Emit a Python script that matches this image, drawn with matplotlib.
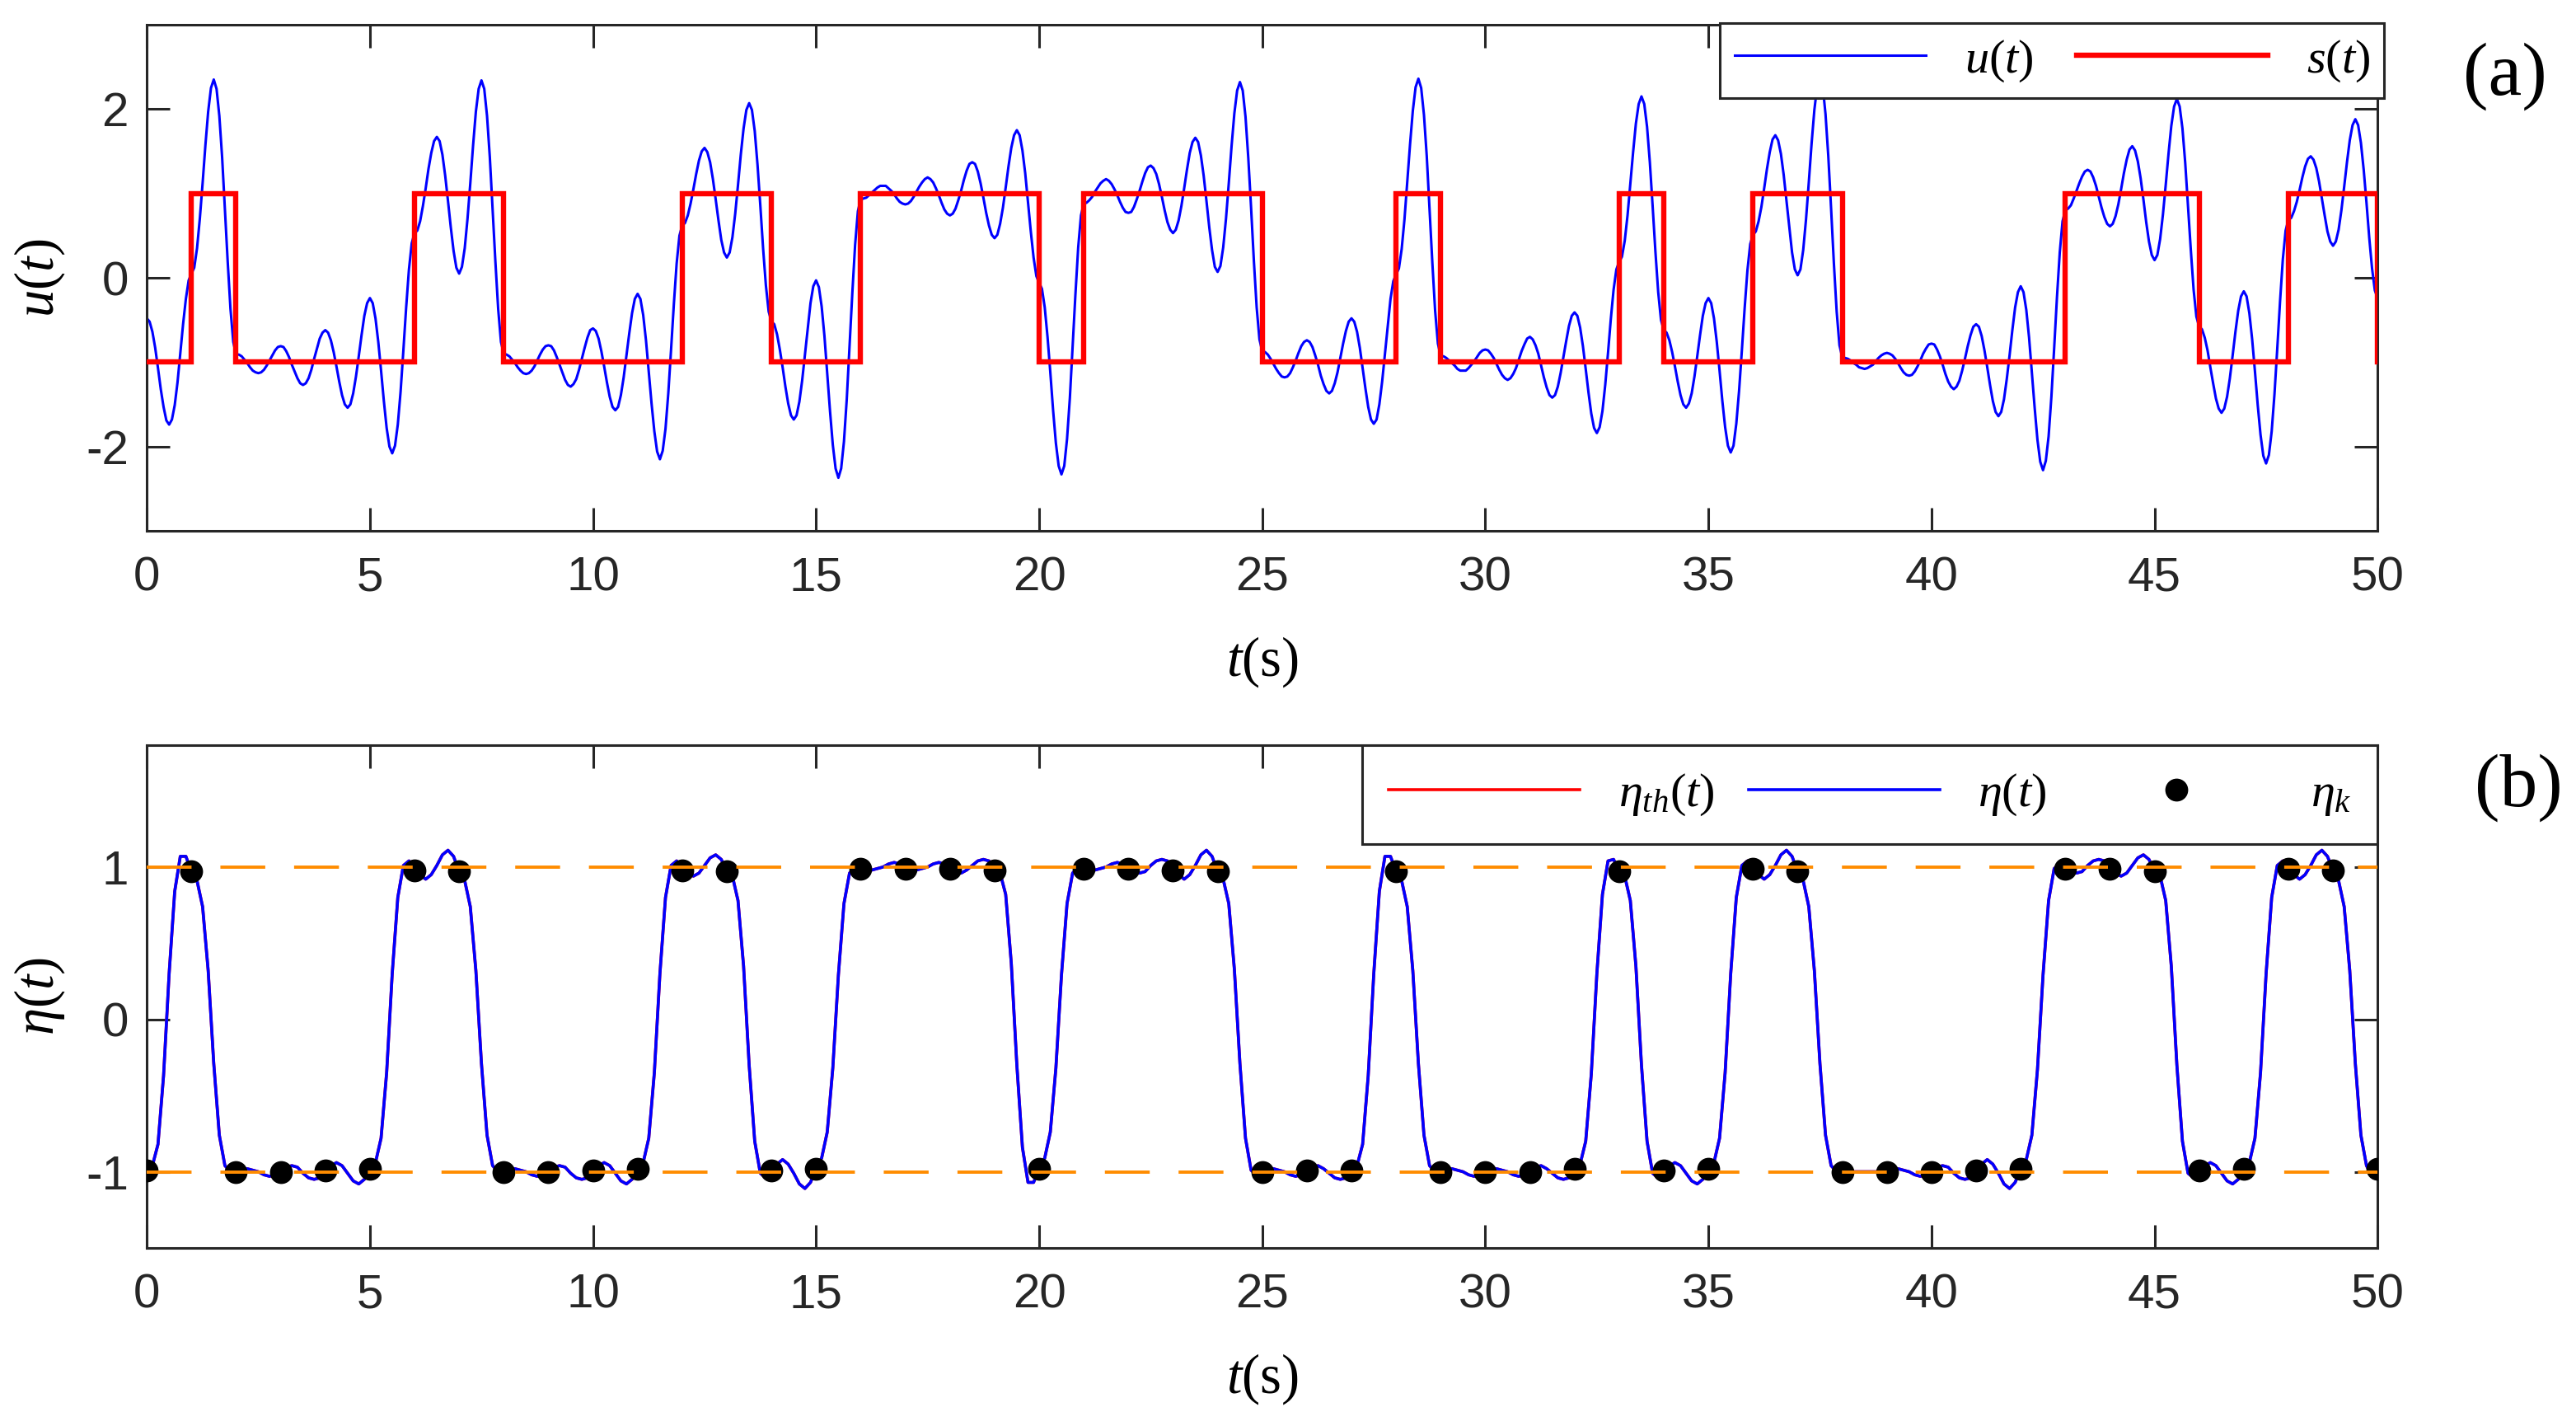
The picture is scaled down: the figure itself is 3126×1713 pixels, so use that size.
import numpy as np
import matplotlib
matplotlib.use("Agg")
import matplotlib.pyplot as plt
from matplotlib.lines import Line2D

# ---------------- data ----------------
# symbol levels s(t) on [k, k+1), k = 0..49, and the level reached at t = 50
s_times = list(range(51))
s_levels = [-1, 1, -1, -1, -1, -1, 1, 1, -1, -1,
            -1, -1, 1, 1, -1, -1, 1, 1, 1, 1,
            -1, 1, 1, 1, 1, -1, -1, -1, 1, -1,
            -1, -1, -1, 1, -1, -1, 1, 1, -1, -1,
            -1, -1, -1, 1, 1, 1, -1, -1, 1, 1,
            -1]

# u(t) read every 1/16 s (one row per second), last value at t = 50
u_samples_per_second = 16
u_values = [
    -0.48, -0.52, -0.64, -0.83, -1.07, -1.32, -1.53, -1.69, -1.74, -1.68, -1.51, -1.24, -0.90, -0.55, -0.25, -0.03,
    0.05, 0.12, 0.35, 0.70, 1.12, 1.57, 1.97, 2.25, 2.35, 2.24, 1.92, 1.43, 0.82, 0.19, -0.37, -0.76,
    -0.91, -0.91, -0.93, -0.97, -1.01, -1.06, -1.10, -1.12, -1.13, -1.12, -1.09, -1.04, -0.98, -0.92, -0.86, -0.82,
    -0.81, -0.82, -0.87, -0.94, -1.03, -1.11, -1.19, -1.25, -1.27, -1.25, -1.19, -1.09, -0.96, -0.84, -0.72, -0.65,
    -0.62, -0.65, -0.74, -0.88, -1.05, -1.23, -1.39, -1.50, -1.54, -1.50, -1.37, -1.17, -0.93, -0.68, -0.45, -0.30,
    -0.24, -0.30, -0.48, -0.76, -1.10, -1.46, -1.78, -2.00, -2.08, -1.99, -1.74, -1.35, -0.86, -0.35, 0.10, 0.41,
    0.53, 0.56, 0.67, 0.85, 1.06, 1.29, 1.48, 1.62, 1.67, 1.62, 1.46, 1.21, 0.91, 0.60, 0.32, 0.12,
    0.05, 0.13, 0.35, 0.70, 1.12, 1.57, 1.97, 2.24, 2.34, 2.24, 1.92, 1.43, 0.82, 0.19, -0.37, -0.76,
    -0.90, -0.91, -0.93, -0.97, -1.01, -1.06, -1.10, -1.13, -1.14, -1.13, -1.10, -1.05, -0.98, -0.91, -0.85, -0.81,
    -0.80, -0.81, -0.86, -0.94, -1.03, -1.12, -1.21, -1.27, -1.29, -1.26, -1.20, -1.09, -0.96, -0.83, -0.71, -0.62,
    -0.60, -0.63, -0.72, -0.87, -1.05, -1.24, -1.41, -1.53, -1.57, -1.53, -1.39, -1.18, -0.92, -0.66, -0.42, -0.25,
    -0.19, -0.25, -0.44, -0.74, -1.11, -1.49, -1.82, -2.06, -2.15, -2.05, -1.79, -1.37, -0.85, -0.31, 0.17, 0.50,
    0.62, 0.65, 0.74, 0.88, 1.05, 1.23, 1.39, 1.50, 1.54, 1.49, 1.37, 1.17, 0.93, 0.68, 0.45, 0.30,
    0.24, 0.30, 0.48, 0.76, 1.10, 1.46, 1.77, 1.99, 2.07, 1.99, 1.74, 1.34, 0.86, 0.35, -0.09, -0.40,
    -0.52, -0.55, -0.67, -0.85, -1.06, -1.29, -1.49, -1.63, -1.68, -1.63, -1.47, -1.22, -0.91, -0.59, -0.30, -0.10,
    -0.03, -0.11, -0.34, -0.69, -1.13, -1.58, -1.98, -2.26, -2.37, -2.26, -1.94, -1.44, -0.82, -0.18, 0.39, 0.79,
    0.93, 0.94, 0.95, 0.98, 1.01, 1.04, 1.07, 1.09, 1.09, 1.09, 1.06, 1.03, 0.99, 0.94, 0.90, 0.88,
    0.87, 0.88, 0.91, 0.96, 1.02, 1.08, 1.13, 1.17, 1.19, 1.17, 1.13, 1.06, 0.98, 0.89, 0.81, 0.76,
    0.74, 0.76, 0.82, 0.92, 1.03, 1.16, 1.27, 1.35, 1.37, 1.35, 1.26, 1.12, 0.95, 0.77, 0.62, 0.51,
    0.47, 0.51, 0.64, 0.83, 1.07, 1.32, 1.54, 1.69, 1.75, 1.69, 1.51, 1.24, 0.90, 0.55, 0.24, 0.02,
    -0.06, -0.13, -0.35, -0.70, -1.12, -1.57, -1.96, -2.23, -2.33, -2.23, -1.91, -1.43, -0.82, -0.20, 0.36, 0.74,
    0.88, 0.89, 0.92, 0.96, 1.02, 1.07, 1.12, 1.15, 1.17, 1.15, 1.11, 1.05, 0.98, 0.90, 0.83, 0.78,
    0.77, 0.78, 0.84, 0.93, 1.03, 1.14, 1.24, 1.31, 1.33, 1.30, 1.23, 1.11, 0.96, 0.80, 0.66, 0.57,
    0.53, 0.57, 0.68, 0.85, 1.06, 1.28, 1.48, 1.61, 1.66, 1.61, 1.45, 1.21, 0.91, 0.60, 0.33, 0.13,
    0.07, 0.14, 0.36, 0.70, 1.12, 1.56, 1.95, 2.22, 2.32, 2.22, 1.91, 1.42, 0.83, 0.20, -0.35, -0.73,
    -0.87, -0.88, -0.91, -0.96, -1.02, -1.08, -1.13, -1.17, -1.18, -1.17, -1.13, -1.06, -0.98, -0.89, -0.81, -0.76,
    -0.74, -0.76, -0.82, -0.92, -1.03, -1.16, -1.26, -1.34, -1.37, -1.34, -1.25, -1.12, -0.95, -0.78, -0.63, -0.52,
    -0.48, -0.52, -0.64, -0.83, -1.07, -1.31, -1.53, -1.68, -1.73, -1.68, -1.50, -1.23, -0.90, -0.56, -0.25, -0.04,
    0.04, 0.11, 0.34, 0.69, 1.13, 1.58, 1.98, 2.26, 2.36, 2.25, 1.93, 1.44, 0.82, 0.18, -0.39, -0.78,
    -0.93, -0.93, -0.95, -0.98, -1.01, -1.04, -1.08, -1.10, -1.10, -1.10, -1.07, -1.03, -0.99, -0.94, -0.89, -0.86,
    -0.85, -0.86, -0.90, -0.95, -1.02, -1.09, -1.15, -1.19, -1.21, -1.19, -1.14, -1.07, -0.97, -0.87, -0.79, -0.72,
    -0.70, -0.73, -0.80, -0.90, -1.04, -1.18, -1.30, -1.39, -1.42, -1.39, -1.29, -1.13, -0.94, -0.75, -0.57, -0.45,
    -0.41, -0.45, -0.59, -0.81, -1.08, -1.36, -1.61, -1.78, -1.84, -1.77, -1.58, -1.27, -0.89, -0.49, -0.14, 0.10,
    0.19, 0.25, 0.44, 0.74, 1.11, 1.49, 1.83, 2.06, 2.15, 2.06, 1.79, 1.37, 0.85, 0.31, -0.17, -0.50,
    -0.62, -0.65, -0.74, -0.88, -1.05, -1.23, -1.39, -1.50, -1.54, -1.49, -1.37, -1.17, -0.93, -0.68, -0.45, -0.30,
    -0.24, -0.30, -0.48, -0.76, -1.10, -1.46, -1.77, -1.99, -2.07, -1.99, -1.73, -1.34, -0.86, -0.36, 0.09, 0.40,
    0.51, 0.55, 0.67, 0.84, 1.06, 1.29, 1.49, 1.64, 1.69, 1.63, 1.47, 1.22, 0.91, 0.59, 0.30, 0.10,
    0.03, 0.10, 0.33, 0.69, 1.13, 1.59, 1.99, 2.27, 2.37, 2.27, 1.94, 1.44, 0.82, 0.17, -0.40, -0.80,
    -0.94, -0.95, -0.96, -0.98, -1.01, -1.03, -1.06, -1.07, -1.08, -1.07, -1.05, -1.03, -0.99, -0.95, -0.92, -0.90,
    -0.89, -0.90, -0.92, -0.96, -1.01, -1.07, -1.12, -1.15, -1.16, -1.15, -1.11, -1.05, -0.98, -0.90, -0.84, -0.79,
    -0.78, -0.79, -0.85, -0.93, -1.03, -1.14, -1.23, -1.29, -1.32, -1.29, -1.22, -1.10, -0.96, -0.81, -0.68, -0.58,
    -0.55, -0.58, -0.69, -0.86, -1.06, -1.27, -1.46, -1.59, -1.64, -1.59, -1.44, -1.20, -0.92, -0.62, -0.35, -0.17,
    -0.10, -0.17, -0.38, -0.71, -1.12, -1.54, -1.92, -2.18, -2.28, -2.17, -1.88, -1.41, -0.83, -0.23, 0.30, 0.67,
    0.80, 0.82, 0.86, 0.94, 1.03, 1.12, 1.20, 1.26, 1.28, 1.26, 1.19, 1.09, 0.96, 0.83, 0.72, 0.64,
    0.61, 0.64, 0.73, 0.87, 1.05, 1.24, 1.40, 1.52, 1.56, 1.51, 1.38, 1.18, 0.93, 0.66, 0.43, 0.27,
    0.21, 0.27, 0.46, 0.75, 1.10, 1.47, 1.80, 2.03, 2.12, 2.03, 1.77, 1.36, 0.85, 0.33, -0.14, -0.46,
    -0.58, -0.61, -0.71, -0.86, -1.06, -1.25, -1.43, -1.55, -1.60, -1.55, -1.41, -1.19, -0.92, -0.64, -0.39, -0.22,
    -0.16, -0.22, -0.42, -0.73, -1.11, -1.51, -1.86, -2.11, -2.20, -2.10, -1.82, -1.38, -0.84, -0.28, 0.22, 0.56,
    0.69, 0.71, 0.79, 0.90, 1.04, 1.19, 1.32, 1.41, 1.44, 1.40, 1.30, 1.14, 0.94, 0.74, 0.55, 0.43,
    0.38, 0.43, 0.57, 0.80, 1.08, 1.37, 1.63, 1.81, 1.88, 1.81, 1.60, 1.28, 0.89, 0.47, 0.11, -0.15,
    -0.24,
]

# eta(t) read every 1/8 s (one row per second), last value at t = 50
eta_samples_per_second = 8
eta_values = [
    -0.99, -0.96, -0.82, -0.37, 0.30, 0.84, 1.07, 1.07,
    0.97, 0.91, 0.74, 0.32, -0.29, -0.76, -0.96, -1.00,
    -1.00, -0.99, -0.98, -0.99, -1.00, -1.02, -1.03, -1.02,
    -1.00, -0.97, -0.96, -0.97, -1.01, -1.04, -1.05, -1.04,
    -0.99, -0.96, -0.94, -0.96, -1.01, -1.06, -1.08, -1.05,
    -0.98, -0.94, -0.78, -0.35, 0.30, 0.80, 1.01, 1.04,
    0.98, 0.95, 0.92, 0.95, 1.01, 1.08, 1.11, 1.07,
    0.97, 0.91, 0.74, 0.32, -0.29, -0.76, -0.96, -1.00,
    -1.00, -0.99, -0.98, -0.99, -1.00, -1.02, -1.03, -1.02,
    -1.00, -0.97, -0.96, -0.97, -1.01, -1.04, -1.05, -1.04,
    -0.99, -0.96, -0.94, -0.96, -1.01, -1.06, -1.08, -1.05,
    -0.98, -0.94, -0.78, -0.35, 0.30, 0.80, 1.01, 1.04,
    0.98, 0.96, 0.94, 0.96, 1.01, 1.06, 1.08, 1.05,
    0.97, 0.94, 0.78, 0.35, -0.30, -0.80, -1.01, -1.04,
    -0.99, -0.95, -0.92, -0.95, -1.01, -1.08, -1.11, -1.07,
    -0.98, -0.91, -0.74, -0.32, 0.29, 0.76, 0.96, 1.00,
    0.99, 0.99, 0.98, 0.99, 1.00, 1.02, 1.03, 1.02,
    0.99, 0.99, 0.98, 0.99, 1.00, 1.02, 1.03, 1.02,
    0.99, 0.97, 0.96, 0.98, 1.01, 1.04, 1.05, 1.04,
    0.98, 0.96, 0.82, 0.37, -0.30, -0.84, -1.07, -1.07,
    -0.98, -0.91, -0.74, -0.32, 0.29, 0.76, 0.96, 1.00,
    0.99, 0.99, 0.98, 0.99, 1.00, 1.02, 1.03, 1.02,
    0.99, 0.97, 0.96, 0.97, 1.01, 1.04, 1.05, 1.04,
    0.98, 0.95, 0.92, 0.95, 1.01, 1.08, 1.11, 1.07,
    0.97, 0.92, 0.76, 0.33, -0.29, -0.78, -0.99, -1.02,
    -1.00, -0.99, -0.98, -0.99, -1.00, -1.02, -1.03, -1.02,
    -0.99, -0.97, -0.96, -0.98, -1.01, -1.04, -1.05, -1.04,
    -0.99, -0.96, -0.82, -0.37, 0.30, 0.84, 1.07, 1.07,
    0.97, 0.91, 0.74, 0.32, -0.29, -0.76, -0.96, -1.00,
    -1.00, -0.99, -0.98, -0.99, -1.00, -1.02, -1.03, -1.02,
    -1.00, -0.99, -0.98, -0.99, -1.00, -1.02, -1.03, -1.02,
    -1.00, -0.97, -0.96, -0.98, -1.01, -1.04, -1.05, -1.04,
    -0.98, -0.95, -0.80, -0.36, 0.30, 0.82, 1.04, 1.05,
    0.97, 0.94, 0.78, 0.35, -0.30, -0.80, -1.01, -1.04,
    -0.99, -0.96, -0.94, -0.96, -1.01, -1.06, -1.08, -1.05,
    -0.98, -0.94, -0.78, -0.35, 0.30, 0.80, 1.01, 1.04,
    0.99, 0.95, 0.92, 0.95, 1.01, 1.08, 1.11, 1.07,
    0.97, 0.91, 0.74, 0.32, -0.29, -0.76, -0.96, -1.00,
    -1.00, -1.00, -1.00, -1.00, -1.00, -1.00, -1.00, -1.00,
    -1.00, -0.99, -0.98, -0.99, -1.00, -1.02, -1.03, -1.02,
    -1.00, -0.97, -0.96, -0.97, -1.01, -1.04, -1.05, -1.04,
    -0.99, -0.95, -0.92, -0.95, -1.01, -1.08, -1.11, -1.07,
    -0.98, -0.92, -0.76, -0.33, 0.29, 0.78, 0.99, 1.02,
    0.99, 0.97, 0.96, 0.97, 1.01, 1.04, 1.05, 1.04,
    0.99, 0.96, 0.94, 0.96, 1.01, 1.06, 1.08, 1.05,
    0.97, 0.94, 0.78, 0.35, -0.30, -0.80, -1.01, -1.04,
    -0.99, -0.96, -0.94, -0.96, -1.01, -1.06, -1.08, -1.05,
    -0.98, -0.94, -0.78, -0.35, 0.30, 0.80, 1.01, 1.04,
    0.99, 0.95, 0.92, 0.95, 1.01, 1.08, 1.11, 1.07,
    0.98, 0.91, 0.74, 0.32, -0.29, -0.76, -0.96, -1.03,
    -0.98,
]
eta_th_start = -0.40   # theoretical curve starts here at t = 0

# sampled values eta_k at t = k
eta_k_times = list(range(51))
eta_k_values = [-0.99, 0.97, -1.00, -1.00, -0.99, -0.98, 0.98, 0.97, -1.00, -1.00,
                -0.99, -0.98, 0.98, 0.97, -0.99, -0.98, 0.99, 0.99, 0.99, 0.98,
                -0.98, 0.99, 0.99, 0.98, 0.97, -1.00, -0.99, -0.99, 0.97, -1.00,
                -1.00, -1.00, -0.98, 0.97, -0.99, -0.98, 0.99, 0.97, -1.00, -1.00,
                -1.00, -0.99, -0.98, 0.99, 0.99, 0.97, -0.99, -0.98, 0.99, 0.98,
                -0.98]
thresholds = [1, -1]

x_ticks = [0, 5, 10, 15, 20, 25, 30, 35, 40, 45, 50]
u_ticks = [-2, 0, 2]
eta_ticks = [-1, 0, 1]

# ---------------- style ----------------
plt.rcParams["font.family"] = ["Liberation Sans", "DejaVu Sans"]
plt.rcParams["mathtext.fontset"] = "custom"
plt.rcParams["mathtext.rm"] = "Liberation Serif"
plt.rcParams["mathtext.it"] = "Liberation Serif:italic"
plt.rcParams["mathtext.bf"] = "Liberation Serif:bold"
plt.rcParams["axes.unicode_minus"] = False

DARK = "#262626"
BLUE = "#0000FF"
RED = "#FF0000"
ORANGE = "#FF8C00"

t_u = np.arange(len(u_values)) / u_samples_per_second
t_eta = np.arange(len(eta_values)) / eta_samples_per_second
t_eta_th = np.concatenate([[t_eta[0]], t_eta])
eta_th = np.concatenate([[eta_th_start], eta_values])

fig = plt.figure(figsize=(15.63, 8.565), dpi=200)
ax1 = fig.add_axes([0.0570, 0.624, 0.8660, 0.3585])
ax2 = fig.add_axes([0.0570, 0.1162, 0.8660, 0.3561])


def style(ax):
    for sp in ax.spines.values():
        sp.set_color(DARK)
        sp.set_linewidth(1.1)
    ax.tick_params(direction="in", length=10, width=1.1, top=True, right=True,
                   colors=DARK, labelsize=21)
    ax.tick_params(axis="x", pad=11)
    ax.tick_params(axis="y", pad=8)
    ax.set_xlim(0, 50)
    ax.set_xticks(x_ticks)


LEG = dict(fontsize=21, handlelength=3.98, handletextpad=0.8,
           borderaxespad=0, fancybox=False, framealpha=1, edgecolor=DARK)

# ---------------- panel (a) ----------------
ax1.plot(t_u, u_values, color=BLUE, lw=1.1, label=r"$u(t)$", zorder=2)
ax1.plot(s_times, s_levels, drawstyle="steps-post", color=RED, lw=2.3,
         label=r"$s(t)$", zorder=3, solid_joinstyle="miter")
style(ax1)
ax1.set_ylim(-3, 3)
ax1.set_yticks(u_ticks)
ax1.set_xlabel(r"$t(\mathrm{s})$", fontsize=24)
ax1.set_ylabel(r"$u(t)$", fontsize=24)
ax1.xaxis.set_label_coords(0.5, -0.205)
ax1.yaxis.set_label_coords(-0.036, 0.5)
leg1 = ax1.legend(loc="upper right", bbox_to_anchor=(1.003, 1.003), ncol=2,
                  columnspacing=0.9, borderpad=0.3, **LEG)
leg1.get_frame().set_linewidth(1.1)
leg1.set_zorder(10)

# ---------------- panel (b) ----------------
ax2.plot(t_eta_th, eta_th, color=RED, lw=1.3, zorder=2)
ax2.plot(t_eta, eta_values, color=BLUE, lw=1.3, zorder=3)
ax2.plot(eta_k_times, eta_k_values, linestyle="none", marker="o", ms=9,
         color="black", zorder=4)
for level in thresholds:
    ax2.axhline(level, color=ORANGE, lw=1.4, dashes=(14, 9), zorder=5)
style(ax2)
ax2.set_ylim(-1.5, 1.8)
ax2.set_yticks(eta_ticks)
ax2.set_xlabel(r"$t(\mathrm{s})$", fontsize=24)
ax2.set_ylabel(r"$\eta(t)$", fontsize=24)
ax2.xaxis.set_label_coords(0.5, -0.207)
ax2.yaxis.set_label_coords(-0.036, 0.5)
handles = [Line2D([], [], color=RED, lw=1.3),
           Line2D([], [], color=BLUE, lw=1.3),
           Line2D([], [], color="black", marker="o", ms=9, linestyle="none")]
labels = [r"$\eta_{th}(t)$", r"$\eta(t)$", r"$\eta_k$"]
leg2 = ax2.legend(handles, labels, loc="upper right", bbox_to_anchor=(1.0, 1.0),
                  ncol=3, columnspacing=0.7, borderpad=0.55, **LEG)
leg2.get_frame().set_linewidth(1.1)
leg2.set_zorder(10)

fig.text(0.9725, 0.946, "(a)", fontsize=33, family="Liberation Serif",
         ha="center", va="center", color="black")
fig.text(0.9776, 0.442, "(b)", fontsize=33, family="Liberation Serif",
         ha="center", va="center", color="black")

fig.savefig("out.png", dpi=200)
